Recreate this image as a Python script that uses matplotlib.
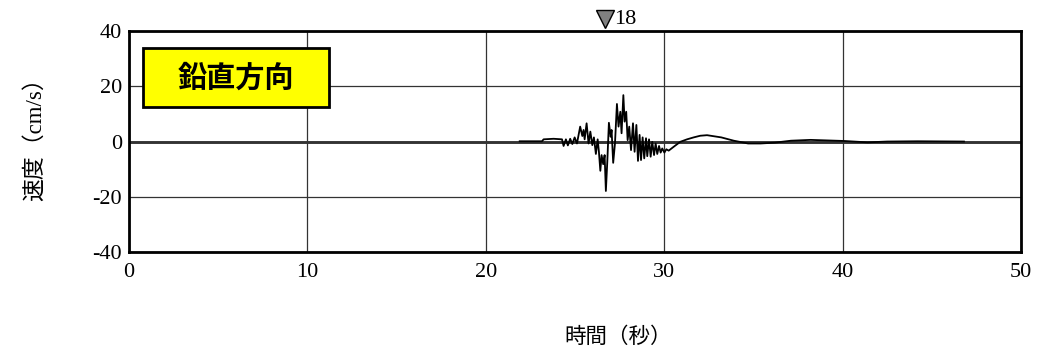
import matplotlib
matplotlib.use("Agg")
import matplotlib.pyplot as plt
from matplotlib.patches import Rectangle

plt.rcParams["axes.unicode_minus"] = False

# Vertical velocity record (time in s, velocity in cm/s)
time_s = [
    21.90, 23.15, 23.24, 23.80, 24.27, 24.36, 24.49, 24.60, 24.73, 24.85,
    24.98, 25.11, 25.29, 25.41, 25.48, 25.54, 25.65, 25.76, 25.86, 25.97,
    26.06, 26.17, 26.27, 26.34, 26.42, 26.49, 26.58, 26.66, 26.73, 26.81,
    26.90, 27.00, 27.05, 27.14, 27.24, 27.35, 27.44, 27.54, 27.61, 27.71,
    27.78, 27.87, 27.95, 28.04, 28.14, 28.25, 28.34, 28.44, 28.53, 28.62,
    28.70, 28.79, 28.88, 28.98, 29.05, 29.15, 29.24, 29.33, 29.43, 29.52,
    29.61, 29.71, 29.80, 29.89, 30.01, 30.12, 30.25, 30.53, 30.90, 31.28,
    31.65, 32.02, 32.40, 33.20, 33.90, 34.70, 35.40, 36.20, 37.10, 38.20,
    40.10, 41.40, 42.50, 44.20, 46.80,
]
velocity = [
    0.1, 0.1, 0.8, 1.0, 0.8, -1.6, 0.8, -1.4, 1.0, -0.9,
    1.5, -0.7, 5.4, 2.0, 4.2, 0.8, 6.6, -0.7, 3.6, -1.3,
    1.5, -4.5, 0.8, -3.7, -10.6, -4.9, -8.2, -4.9, -17.9, -7.3,
    6.8, 1.7, 4.2, -7.7, -0.7, 13.6, 5.4, 10.8, 3.0, 16.8,
    7.2, 10.8, 0.5, 5.4, -3.1, 6.6, -3.7, 6.0, -7.0, 2.4,
    -6.7, 1.5, -6.1, 1.2, -5.3, 0.8, -5.5, -0.1, -4.9, -0.7,
    -4.5, -1.6, -4.0, -2.5, -4.0, -2.8, -3.3, -1.9, -0.1, 0.8,
    1.5, 2.1, 2.3, 1.5, 0.3, -0.7, -0.7, -0.4, 0.3, 0.6,
    0.2, -0.3, 0.0, 0.1, 0.0,
]

x_ticks = [0, 10, 20, 30, 40, 50]
y_ticks = [-40, -20, 0, 20, 40]
component = "鉛直方向"
peak_time = 26.7
peak_label = "18"

serif = ["Liberation Serif", "Noto Sans CJK JP"]

fig = plt.figure(figsize=(10.51, 3.51), dpi=100)
ax = fig.add_axes([0.1227, 0.282, 0.8488, 0.6295])

ax.set_xlim(x_ticks[0], x_ticks[-1])
ax.set_ylim(y_ticks[0], y_ticks[-1])
ax.set_xticks(x_ticks)
ax.set_yticks(y_ticks)
ax.tick_params(axis="x", length=0, pad=8, labelsize=16)
ax.tick_params(axis="y", length=0, pad=5, labelsize=16)
for lab in ax.get_xticklabels() + ax.get_yticklabels():
    lab.set_fontfamily(serif)

ax.grid(True, color="#333333", linewidth=0.9)
ax.axhline(0, color="black", linewidth=1.8, zorder=1.5)
for sp in ax.spines.values():
    sp.set_linewidth(2.0)
    sp.set_color("black")

ax.plot(time_s, velocity, color="black", linewidth=1.3, zorder=3)

# component label box
ax.add_patch(Rectangle((0.8, 12.5), 10.4, 21.3, facecolor="#ffff00",
                       edgecolor="black", linewidth=2.0, zorder=5))
ax.text(6.0, 23.0, component, ha="center", va="center", fontsize=21,
        fontweight="bold", family=["Noto Sans CJK JP"], zorder=6)

# peak marker above the frame
ax.plot([peak_time], [44.2], marker="v", markersize=13, color="#808080",
        markeredgecolor="black", markeredgewidth=1.0, clip_on=False, zorder=6)
ax.text(peak_time + 0.5, 44.2, peak_label, ha="left", va="center",
        fontsize=16, family=serif, clip_on=False)

fig.text(618 / 1051, 1 - 338 / 351, "時間（秒）", ha="center", va="center",
         fontsize=15.5, family=serif)
fig.text(35 / 1051, 1 - 134 / 351, "速度（cm/s）", ha="center", va="center",
         rotation=90, fontsize=16.5, family=serif)

fig.savefig("out.png", dpi=100)
